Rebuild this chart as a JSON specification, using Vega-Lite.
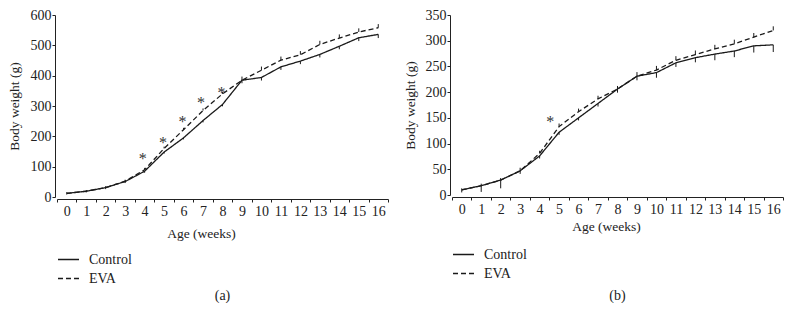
{
  "$schema": "https://vega.github.io/schema/vega-lite/v6.json",
  "padding": {"left": 7, "top": 8, "right": 4, "bottom": 0},
  "bounds": "flush",
  "spacing": 64,
  "config": {
    "view": {"stroke": null},
    "axis": {
      "grid": false,
      "domain": true,
      "ticks": true,
      "offset": 2,
      "domainColor": "#222222",
      "domainWidth": 1,
      "tickColor": "#222222",
      "tickWidth": 1,
      "tickSize": 3,
      "labelFont": "Liberation Serif",
      "labelFontSize": 14,
      "labelColor": "#222222",
      "titleFont": "Liberation Serif",
      "titleFontSize": 13.5,
      "titleFontWeight": "normal",
      "titleColor": "#222222"
    },
    "legend": {
      "symbolType": "M-1,0L1,0",
      "symbolSize": 441,
      "symbolStrokeWidth": 1.3,
      "symbolStrokeColor": "#1a1a1a",
      "labelFont": "Liberation Serif",
      "labelFontSize": 14,
      "labelColor": "#222222",
      "labelOffset": 9,
      "rowPadding": -3,
      "padding": 0
    },
    "title": {"font": "Liberation Serif", "fontSize": 14, "fontWeight": "normal", "color": "#222222"}
  },
  "datasets": {
    "a_lines": [
      {"week": 0, "group": "Control", "weight": 12, "err_low": 8, "err_high": 12},
      {"week": 1, "group": "Control", "weight": 19, "err_low": 15, "err_high": 19},
      {"week": 2, "group": "Control", "weight": 31, "err_low": 26, "err_high": 31},
      {"week": 3, "group": "Control", "weight": 51, "err_low": 46, "err_high": 51},
      {"week": 4, "group": "Control", "weight": 85, "err_low": 80, "err_high": 85},
      {"week": 5, "group": "Control", "weight": 148, "err_low": 143, "err_high": 148},
      {"week": 6, "group": "Control", "weight": 195, "err_low": 190, "err_high": 195},
      {"week": 7, "group": "Control", "weight": 252, "err_low": 246, "err_high": 252},
      {"week": 8, "group": "Control", "weight": 305, "err_low": 299, "err_high": 305},
      {"week": 9, "group": "Control", "weight": 385, "err_low": 375, "err_high": 385},
      {"week": 10, "group": "Control", "weight": 394, "err_low": 384, "err_high": 394},
      {"week": 11, "group": "Control", "weight": 429, "err_low": 419, "err_high": 429},
      {"week": 12, "group": "Control", "weight": 448, "err_low": 438, "err_high": 448},
      {"week": 13, "group": "Control", "weight": 470, "err_low": 460, "err_high": 470},
      {"week": 14, "group": "Control", "weight": 497, "err_low": 487, "err_high": 497},
      {"week": 15, "group": "Control", "weight": 525, "err_low": 514, "err_high": 525},
      {"week": 16, "group": "Control", "weight": 536, "err_low": 524, "err_high": 536},
      {"week": 0, "group": "EVA", "weight": 12, "err_low": 12, "err_high": 16},
      {"week": 1, "group": "EVA", "weight": 19, "err_low": 19, "err_high": 23},
      {"week": 2, "group": "EVA", "weight": 31, "err_low": 31, "err_high": 36},
      {"week": 3, "group": "EVA", "weight": 52, "err_low": 52, "err_high": 57},
      {"week": 4, "group": "EVA", "weight": 90, "err_low": 90, "err_high": 96},
      {"week": 5, "group": "EVA", "weight": 160, "err_low": 160, "err_high": 166},
      {"week": 6, "group": "EVA", "weight": 222, "err_low": 222, "err_high": 228},
      {"week": 7, "group": "EVA", "weight": 285, "err_low": 285, "err_high": 292},
      {"week": 8, "group": "EVA", "weight": 340, "err_low": 340, "err_high": 347},
      {"week": 9, "group": "EVA", "weight": 385, "err_low": 385, "err_high": 397},
      {"week": 10, "group": "EVA", "weight": 418, "err_low": 418, "err_high": 430},
      {"week": 11, "group": "EVA", "weight": 451, "err_low": 451, "err_high": 463},
      {"week": 12, "group": "EVA", "weight": 469, "err_low": 469, "err_high": 481},
      {"week": 13, "group": "EVA", "weight": 503, "err_low": 503, "err_high": 515},
      {"week": 14, "group": "EVA", "weight": 524, "err_low": 524, "err_high": 536},
      {"week": 15, "group": "EVA", "weight": 544, "err_low": 544, "err_high": 556},
      {"week": 16, "group": "EVA", "weight": 558, "err_low": 558, "err_high": 570}
    ],
    "a_stars": [
      {"week": 3.9, "weight": 140},
      {"week": 4.95, "weight": 190},
      {"week": 5.95, "weight": 262},
      {"week": 6.9, "weight": 323},
      {"week": 7.95, "weight": 355}
    ],
    "b_lines": [
      {"week": 0, "group": "Control", "weight": 10, "err_low": 5, "err_high": 10},
      {"week": 1, "group": "Control", "weight": 18, "err_low": 6, "err_high": 18},
      {"week": 2, "group": "Control", "weight": 29, "err_low": 13, "err_high": 29},
      {"week": 3, "group": "Control", "weight": 47, "err_low": 41, "err_high": 47},
      {"week": 4, "group": "Control", "weight": 76, "err_low": 71, "err_high": 76},
      {"week": 5, "group": "Control", "weight": 122, "err_low": 117, "err_high": 122},
      {"week": 6, "group": "Control", "weight": 150, "err_low": 145, "err_high": 150},
      {"week": 7, "group": "Control", "weight": 178, "err_low": 172, "err_high": 178},
      {"week": 8, "group": "Control", "weight": 206, "err_low": 199, "err_high": 206},
      {"week": 9, "group": "Control", "weight": 231, "err_low": 223, "err_high": 231},
      {"week": 10, "group": "Control", "weight": 238, "err_low": 228, "err_high": 238},
      {"week": 11, "group": "Control", "weight": 257, "err_low": 249, "err_high": 257},
      {"week": 12, "group": "Control", "weight": 267, "err_low": 258, "err_high": 267},
      {"week": 13, "group": "Control", "weight": 274, "err_low": 262, "err_high": 274},
      {"week": 14, "group": "Control", "weight": 280, "err_low": 268, "err_high": 280},
      {"week": 15, "group": "Control", "weight": 290, "err_low": 277, "err_high": 290},
      {"week": 16, "group": "Control", "weight": 292, "err_low": 278, "err_high": 292},
      {"week": 0, "group": "EVA", "weight": 10, "err_low": 10, "err_high": 13},
      {"week": 1, "group": "EVA", "weight": 18, "err_low": 18, "err_high": 22},
      {"week": 2, "group": "EVA", "weight": 29, "err_low": 29, "err_high": 33},
      {"week": 3, "group": "EVA", "weight": 47, "err_low": 47, "err_high": 53},
      {"week": 4, "group": "EVA", "weight": 81, "err_low": 81, "err_high": 86},
      {"week": 5, "group": "EVA", "weight": 133, "err_low": 133, "err_high": 139},
      {"week": 6, "group": "EVA", "weight": 162, "err_low": 162, "err_high": 168},
      {"week": 7, "group": "EVA", "weight": 187, "err_low": 187, "err_high": 193},
      {"week": 8, "group": "EVA", "weight": 206, "err_low": 206, "err_high": 212},
      {"week": 9, "group": "EVA", "weight": 231, "err_low": 231, "err_high": 239},
      {"week": 10, "group": "EVA", "weight": 243, "err_low": 243, "err_high": 251},
      {"week": 11, "group": "EVA", "weight": 262, "err_low": 262, "err_high": 270},
      {"week": 12, "group": "EVA", "weight": 273, "err_low": 273, "err_high": 281},
      {"week": 13, "group": "EVA", "weight": 284, "err_low": 284, "err_high": 292},
      {"week": 14, "group": "EVA", "weight": 294, "err_low": 294, "err_high": 302},
      {"week": 15, "group": "EVA", "weight": 307, "err_low": 307, "err_high": 315},
      {"week": 16, "group": "EVA", "weight": 320, "err_low": 320, "err_high": 328}
    ],
    "b_stars": [
      {"week": 4.55, "weight": 150}
    ]
  },
  "hconcat": [
    {
      "width": 331,
      "height": 182,
      "title": {"text": "(a)", "orient": "bottom", "offset": 3},
      "encoding": {
        "x": {
          "field": "week", "type": "quantitative",
          "scale": {"domain": [-0.5, 16.5], "nice": false, "zero": false},
          "axis": {
            "values": [-0.5, 0, 0.5, 1, 1.5, 2, 2.5, 3, 3.5, 4, 4.5, 5, 5.5, 6, 6.5, 7, 7.5, 8, 8.5, 9, 9.5, 10, 10.5, 11, 11.5, 12, 12.5, 13, 13.5, 14, 14.5, 15, 15.5, 16, 16.5],
            "format": ".0f",
            "labelExpr": "datum.value == round(datum.value) ? datum.label : ''",
            "tickOpacity": {"condition": {"test": "datum.value == round(datum.value)", "value": 0}, "value": 1},
            "labelOverlap": false,
            "labelFlush": false,
            "labelPadding": 2,
            "title": "Age (weeks)",
            "titleX": 144,
            "titleY": 34,
            "titleBaseline": "middle"
          }
        },
        "y": {
          "field": "weight", "type": "quantitative",
          "scale": {"domain": [0, 600], "nice": false},
          "axis": {
            "values": [0, 100, 200, 300, 400, 500, 600],
            "labelOverlap": false,
            "labelPadding": 1,
            "title": "Body weight (g)",
            "titleX": -41,
            "titleY": 91,
            "titleBaseline": "middle"
          }
        }
      },
      "layer": [
        {
          "data": {"name": "a_lines"},
          "mark": {"type": "line", "color": "#1a1a1a", "strokeWidth": 1.3},
          "encoding": {
            "strokeDash": {
              "field": "group", "type": "nominal",
              "scale": {"domain": ["Control", "EVA"], "range": [[1, 0], [5, 3]]},
              "legend": {"title": null, "orient": "none", "legendX": 0, "legendY": 233}
            }
          }
        },
        {
          "data": {"name": "a_lines"},
          "mark": {"type": "rule", "color": "#1a1a1a", "strokeWidth": 1},
          "encoding": {
            "y": {"field": "err_low", "type": "quantitative"},
            "y2": {"field": "err_high"}
          }
        },
        {
          "data": {"name": "a_stars"},
          "mark": {"type": "text", "text": "*", "font": "Liberation Serif", "fontSize": 16, "color": "#333333", "baseline": "middle", "dy": 4},
          "encoding": {}
        }
      ]
    },
    {
      "width": 331,
      "height": 180,
      "title": {"text": "(b)", "orient": "bottom", "offset": 8},
      "encoding": {
        "x": {
          "field": "week", "type": "quantitative",
          "scale": {"domain": [-0.5, 16.5], "nice": false, "zero": false},
          "axis": {
            "values": [-0.5, 0, 0.5, 1, 1.5, 2, 2.5, 3, 3.5, 4, 4.5, 5, 5.5, 6, 6.5, 7, 7.5, 8, 8.5, 9, 9.5, 10, 10.5, 11, 11.5, 12, 12.5, 13, 13.5, 14, 14.5, 15, 15.5, 16, 16.5],
            "format": ".0f",
            "labelExpr": "datum.value == round(datum.value) ? datum.label : ''",
            "tickOpacity": {"condition": {"test": "datum.value == round(datum.value)", "value": 0}, "value": 1},
            "labelOverlap": false,
            "labelFlush": false,
            "labelPadding": 2,
            "title": "Age (weeks)",
            "titleX": 154,
            "titleY": 29,
            "titleBaseline": "middle"
          }
        },
        "y": {
          "field": "weight", "type": "quantitative",
          "scale": {"domain": [0, 350], "nice": false},
          "axis": {
            "values": [0, 50, 100, 150, 200, 250, 300, 350],
            "labelOverlap": false,
            "labelPadding": 1,
            "title": "Body weight (g)",
            "titleX": -40,
            "titleY": 90,
            "titleBaseline": "middle"
          }
        }
      },
      "layer": [
        {
          "data": {"name": "b_lines"},
          "mark": {"type": "line", "color": "#1a1a1a", "strokeWidth": 1.3},
          "encoding": {
            "strokeDash": {
              "field": "group", "type": "nominal",
              "scale": {"domain": ["Control", "EVA"], "range": [[1, 0], [5, 3]]},
              "legend": {"title": null, "orient": "none", "legendX": 0, "legendY": 228, "rowPadding": -2}
            }
          }
        },
        {
          "data": {"name": "b_lines"},
          "mark": {"type": "rule", "color": "#1a1a1a", "strokeWidth": 1},
          "encoding": {
            "y": {"field": "err_low", "type": "quantitative"},
            "y2": {"field": "err_high"}
          }
        },
        {
          "data": {"name": "b_stars"},
          "mark": {"type": "text", "text": "*", "font": "Liberation Serif", "fontSize": 16, "color": "#333333", "baseline": "middle", "dy": 4},
          "encoding": {}
        }
      ]
    }
  ],
  "resolve": {"scale": {"strokeDash": "independent"}, "legend": {"strokeDash": "independent"}}
}
